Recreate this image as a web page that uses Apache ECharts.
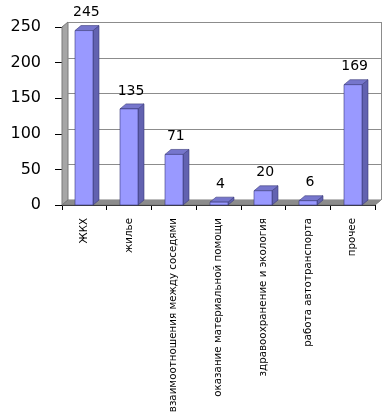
<!DOCTYPE html>
<html>
<head>
<meta charset="utf-8">
<script src="https://cdn.jsdelivr.net/npm/echarts@6/dist/echarts.min.js"></script>
<style>html,body{margin:0;padding:0;background:#fff}#c{width:389px;height:416px}</style>
</head>
<body>
<div id="c"></div>
<script>
const categories = ["ЖКХ", "жилье", "взаимоотношения между соседями", "оказание материальной помощи", "здравоохранение и экология", "работа автотранспорта", "прочее"];
const values = [245, 135, 71, 4, 20, 6, 169];
const yTicks = [0, 50, 100, 150, 200, 250];

const DX = 6, DY = -5;
const FONT = "DejaVu Sans";

const chart = echarts.init(document.getElementById('c'));

function wallsItem(params, api) {
  const cs = params.coordSys;
  const x = cs.x, y = cs.y, w = cs.width, h = cs.height;
  const ch = [];
  ch.push({type:'polygon', shape:{points:[[x,y+h],[x,y],[x+DX,y+DY],[x+DX,y+h+DY]]},
    style:{fill:'#a6a6a6', stroke:'#7a7a7a', lineWidth:1}});
  ch.push({type:'polygon', shape:{points:[[x,y+h],[x+w,y+h],[x+w+DX,y+h+DY],[x+DX,y+h+DY]]},
    style:{fill:'#8c8c8c', stroke:'#7a7a7a', lineWidth:1}});
  yTicks.forEach(function(t){
    const yy = Math.round(api.coord([0, t])[1] + DY) + 0.5;
    ch.push({type:'line', shape:{x1:x+DX, y1:yy, x2:x+w+DX, y2:yy}, style:{stroke:'#8c8c8c', lineWidth:1}});
  });
  ch.push({type:'line', shape:{x1:x+w+DX+0.5, y1:y+DY, x2:x+w+DX+0.5, y2:y+h+DY}, style:{stroke:'#8c8c8c', lineWidth:1}});
  return {type:'group', children:ch};
}

function barItem(params, api) {
  const idx = api.value(0), v = api.value(1);
  const base = api.coord([idx, 0]);
  const top = api.coord([idx, v]);
  const bw = 18;
  const x0 = Math.round(base[0] - bw/2), x1 = x0 + bw;
  const yb = base[1], yt = top[1];
  const edge = '#3a3a7a';
  return {type:'group', children:[
    {type:'polygon', shape:{points:[[x1,yb],[x1,yt],[x1+DX,yt+DY],[x1+DX,yb+DY]]},
      style:{fill:'#6262b0', stroke:edge, lineWidth:0.6}},
    {type:'polygon', shape:{points:[[x0,yt],[x1,yt],[x1+DX,yt+DY],[x0+DX,yt+DY]]},
      style:{fill:'#7676cc', stroke:edge, lineWidth:0.6}},
    {type:'rect', shape:{x:x0, y:yt, width:bw, height:yb-yt},
      style:{fill:'#9999ff', stroke:edge, lineWidth:0.6}},
    {type:'text', x:base[0]+2, y:yt-18,
      style:{text:String(v), fill:'#000', font:'14px "' + FONT + '"', align:'center', verticalAlign:'middle'}}
  ]};
}

chart.setOption({
  animation:false,
  backgroundColor:'#fff',
  grid:{left:62, right:14, top:27, bottom:211, containLabel:false, outerBoundsMode:'none'},
  xAxis:{type:'category', data:categories,
    axisLine:{show:true, lineStyle:{color:'#000', width:1}},
    axisTick:{show:true, length:5, alignWithLabel:false, lineStyle:{color:'#000'}},
    axisLabel:{rotate:90, interval:0, margin:13, fontSize:10.3, fontFamily:FONT, color:'#000', hideOverlap:false},
    splitLine:{show:false}},
  yAxis:{type:'value', min:0, max:250, interval:50,
    axisLine:{show:true, lineStyle:{color:'#000', width:1}},
    axisTick:{show:true, length:7, lineStyle:{color:'#000'}},
    axisLabel:{margin:21, fontSize:16, fontFamily:FONT, color:'#000'},
    splitLine:{show:false}},
  series:[
    {type:'custom', renderItem:wallsItem, data:[[0,0]], z:1, silent:true},
    {type:'custom', renderItem:barItem, data:values.map(function(v,i){return [i,v];}), z:3}
  ]
});
</script>
</body>
</html>
